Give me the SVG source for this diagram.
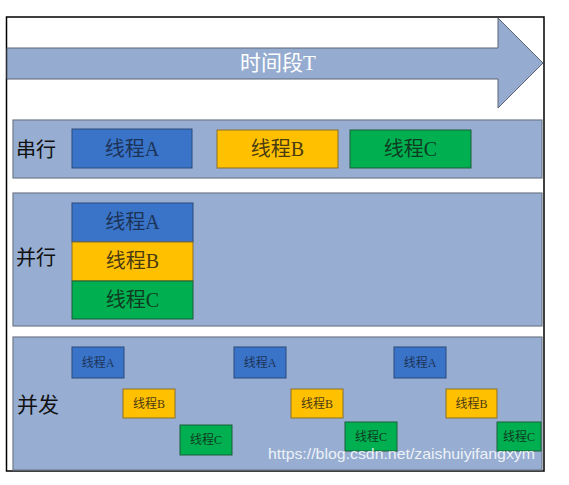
<svg xmlns="http://www.w3.org/2000/svg" width="569" height="485" viewBox="0 0 569 485">
<defs>
<style>
.panel{fill:#97aed2;stroke:#6e7a8a;stroke-width:1.2}
.a{fill:#3a74c8;stroke:#2a4a7a;stroke-width:1}
.b{fill:#ffc000;stroke:#8a6e2a;stroke-width:1}
.c{fill:#00b050;stroke:#1d5e38;stroke-width:1}
.t{font-family:"Liberation Serif","Noto Sans CJK SC",serif;text-anchor:middle;dominant-baseline:central}
.ta{fill:#1c3358}.tb{fill:#4a3b12}.tc{fill:#0f3b22}
.lbl{font-family:"Noto Sans CJK SC",sans-serif;font-size:20px;fill:#111;dominant-baseline:central}
</style>
</defs>
<rect x="0" y="0" width="569" height="485" fill="#ffffff"/>
<rect x="6.5" y="17" width="537.5" height="454" fill="#ffffff" stroke="#000" stroke-width="1.5"/>
<g id="timeline">
<polygon points="7,48 498,48 498,18 543,63 498,108 498,79 7,79" fill="#95acd0" stroke="#5a6474" stroke-width="1"/>
<text x="278" y="63" class="t" font-size="21" fill="#ffffff">时间段T</text>
</g>
<g id="serial">
<rect class="panel" x="13" y="120" width="529" height="58"/>
<text class="lbl" x="16" y="148">串行</text>
<g id="serial-a"><rect class="a" x="72" y="129" width="120" height="39"/><text class="t ta" x="132" y="148.5" font-size="20">线程A</text></g>
<g id="serial-b"><rect class="b" x="217" y="130" width="121" height="38"/><text class="t tb" x="277.5" y="149" font-size="20">线程B</text></g>
<g id="serial-c"><rect class="c" x="350" y="130" width="121" height="38"/><text class="t tc" x="410.5" y="149" font-size="20">线程C</text></g>
</g>
<g id="parallel">
<rect class="panel" x="13" y="193" width="529" height="133"/>
<text class="lbl" x="16" y="256">并行</text>
<g id="parallel-a"><rect class="a" x="72" y="203" width="121" height="39"/><text class="t ta" x="132.5" y="222" font-size="20">线程A</text></g>
<g id="parallel-b"><rect class="b" x="72" y="242" width="121" height="39"/><text class="t tb" x="132.5" y="261" font-size="20">线程B</text></g>
<g id="parallel-c"><rect class="c" x="72" y="281" width="121" height="38"/><text class="t tc" x="132.5" y="300" font-size="20">线程C</text></g>
</g>
<g id="concurrent">
<rect class="panel" x="13" y="337" width="529" height="133"/>
<text class="lbl" x="17" y="403" font-size="21" style="font-size:21px">并发</text>
<g id="conc-a1"><rect class="a" x="72" y="347" width="52" height="31"/><text class="t ta" x="98" y="362.5" font-size="12">线程A</text></g>
<g id="conc-b1"><rect class="b" x="123" y="389" width="52" height="29"/><text class="t tb" x="149" y="403.5" font-size="12">线程B</text></g>
<g id="conc-c1"><rect class="c" x="180" y="425" width="52" height="30"/><text class="t tc" x="206" y="440" font-size="12">线程C</text></g>
<g id="conc-a2"><rect class="a" x="234" y="347" width="52" height="31"/><text class="t ta" x="260" y="362.5" font-size="12">线程A</text></g>
<g id="conc-b2"><rect class="b" x="291" y="389" width="52" height="29"/><text class="t tb" x="317" y="403.5" font-size="12">线程B</text></g>
<g id="conc-c2"><rect class="c" x="345" y="422" width="52" height="29"/><text class="t tc" x="371" y="436.5" font-size="12">线程C</text></g>
<g id="conc-a3"><rect class="a" x="394" y="347" width="52" height="31"/><text class="t ta" x="420" y="362.5" font-size="12">线程A</text></g>
<g id="conc-b3"><rect class="b" x="446" y="389" width="51" height="29"/><text class="t tb" x="471.5" y="403.5" font-size="12">线程B</text></g>
<g id="conc-c3"><rect class="c" x="497" y="422" width="44" height="29"/><text class="t tc" x="519" y="436.5" font-size="12">线程C</text></g>
</g>
<g id="connectors"></g>
<text x="268" y="459" font-family="Liberation Sans, Arial, sans-serif" font-size="14.5" fill="#ffffff" fill-opacity="0.85" textLength="267" lengthAdjust="spacingAndGlyphs">https://blog.csdn.net/zaishuiyifangxym</text>
</svg>
